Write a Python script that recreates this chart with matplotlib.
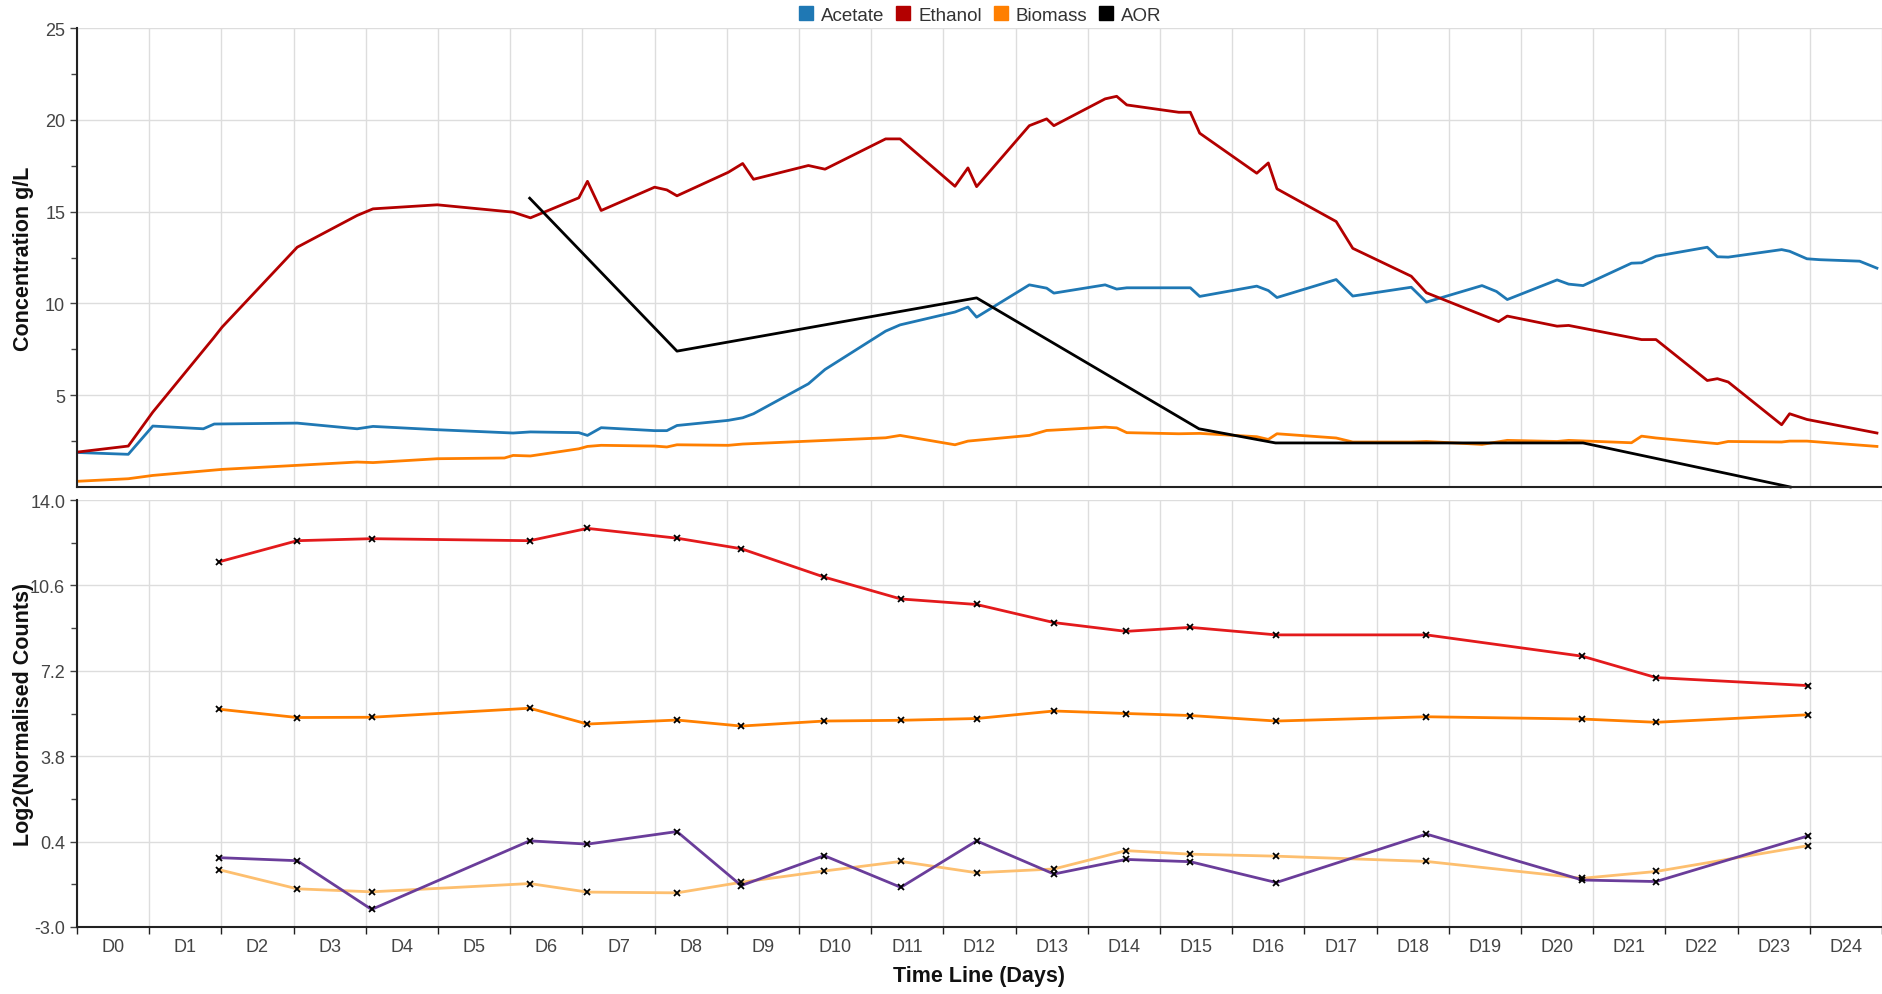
import numpy as np
import matplotlib
matplotlib.use("Agg")
import matplotlib.pyplot as plt
from matplotlib.lines import Line2D
from matplotlib.ticker import MultipleLocator, FixedLocator, NullFormatter

plt.rcParams['font.family'] = ['Liberation Sans', 'DejaVu Sans']

# ---- top panel: fermentation profile (time in days, g/L) ----
eth_t = [0.00, 0.71, 1.05, 1.75, 1.89, 2.01, 3.05, 3.88, 4.10, 4.99, 6.04, 6.28, 6.95, 7.07, 7.26,
         8.00, 8.17, 8.31, 9.02, 9.22, 9.37, 10.13, 10.36, 11.20, 11.40, 12.16, 12.34, 12.46,
         13.19, 13.43, 13.53, 14.24, 14.40, 14.54, 15.26, 15.42, 15.55, 16.34, 16.50, 16.62,
         17.44, 17.67, 18.48, 18.69, 19.69, 19.81, 20.50, 20.66, 21.67, 21.87, 22.58, 22.72,
         22.87, 23.61, 23.72, 23.96, 24.93]
ethanol = [1.90, 2.23, 4.08, 7.44, 8.11, 8.71, 13.06, 14.79, 15.15, 15.37, 14.97, 14.66, 15.75, 16.65, 15.06,
           16.33, 16.18, 15.86, 17.14, 17.62, 16.76, 17.51, 17.31, 18.96, 18.96, 16.38, 17.38, 16.36,
           19.68, 20.05, 19.68, 21.14, 21.28, 20.81, 20.41, 20.41, 19.27, 17.09, 17.65, 16.24,
           14.46, 13.00, 11.48, 10.58, 9.01, 9.31, 8.76, 8.80, 8.03, 8.03, 5.80, 5.90,
           5.72, 3.39, 3.99, 3.68, 2.94]

ace_t = [0.00, 0.71, 1.05, 1.75, 1.90, 3.05, 3.88, 4.10, 4.99, 6.04, 6.28, 6.95, 7.07, 7.26,
         8.00, 8.17, 8.31, 9.02, 9.22, 9.37, 10.13, 10.36, 11.20, 11.40, 12.16, 12.34, 12.46,
         13.19, 13.43, 13.53, 14.24, 14.40, 14.54, 15.26, 15.42, 15.55, 16.34, 16.50, 16.62,
         17.44, 17.67, 18.48, 18.69, 19.46, 19.66, 19.81, 20.50, 20.66, 20.86, 21.53, 21.67,
         21.87, 22.58, 22.72, 22.87, 23.61, 23.72, 23.96, 24.14, 24.69, 24.93]
acetate = [1.88, 1.78, 3.32, 3.17, 3.43, 3.48, 3.17, 3.30, 3.12, 2.94, 3.00, 2.96, 2.81, 3.23,
           3.07, 3.07, 3.35, 3.63, 3.77, 3.99, 5.62, 6.40, 8.49, 8.83, 9.53, 9.80, 9.25,
           11.01, 10.83, 10.56, 11.01, 10.78, 10.85, 10.85, 10.85, 10.38, 10.94, 10.70, 10.32,
           11.30, 10.40, 10.88, 10.07, 10.97, 10.65, 10.21, 11.28, 11.05, 10.97, 12.19, 12.21,
           12.57, 13.06, 12.54, 12.52, 12.93, 12.84, 12.43, 12.38, 12.30, 11.92]

bio_t = [0.00, 0.71, 1.05, 2.01, 3.05, 3.88, 4.10, 4.99, 5.92, 6.04, 6.28, 6.95, 7.07, 7.26,
         8.00, 8.17, 8.31, 9.02, 9.22, 11.20, 11.40, 12.16, 12.34, 13.19, 13.43, 13.53,
         14.24, 14.40, 14.54, 15.26, 15.55, 16.34, 16.50, 16.62, 17.44, 17.67, 18.48, 18.69,
         19.46, 19.81, 20.50, 20.66, 21.53, 21.67, 21.87, 22.72, 22.87, 23.61, 23.72, 23.96, 24.93]
biomass = [0.31, 0.45, 0.63, 0.96, 1.18, 1.36, 1.33, 1.54, 1.58, 1.72, 1.69, 2.08, 2.21, 2.27,
           2.23, 2.18, 2.30, 2.27, 2.34, 2.68, 2.81, 2.30, 2.50, 2.81, 3.08, 3.10,
           3.26, 3.22, 2.96, 2.90, 2.92, 2.74, 2.59, 2.90, 2.67, 2.45, 2.45, 2.48,
           2.32, 2.54, 2.48, 2.54, 2.41, 2.77, 2.67, 2.36, 2.48, 2.45, 2.50, 2.50, 2.21]

aor_t = [6.27, 8.31, 12.46, 15.54, 16.60, 20.86, 23.73]
aor = [15.73, 7.40, 10.30, 3.17, 2.40, 2.40, 0.0]

# ---- bottom panel: gene expression, log2 normalised counts ----
samp_t = [1.97, 3.05, 4.08, 6.27, 7.07, 8.31, 9.20, 10.35, 11.41, 12.46, 13.53, 14.53,
          15.42, 16.61, 18.69, 20.85, 21.87, 23.98]
gene_red = [11.54, 12.38, 12.46, 12.38, 12.87, 12.48, 12.06, 10.93, 10.06, 9.84, 9.12, 8.77,
            8.93, 8.63, 8.63, 7.78, 6.93, 6.61]
gene_orange = [5.67, 5.34, 5.35, 5.71, 5.08, 5.24, 5.00, 5.20, 5.23, 5.30, 5.60, 5.50,
               5.42, 5.20, 5.37, 5.28, 5.15, 5.45]
gene_lightorange = [-0.72, -1.48, -1.60, -1.27, -1.61, -1.64, -1.22, -0.77, -0.39, -0.84, -0.69, 0.04,
                    -0.10, -0.18, -0.39, -1.06, -0.79, 0.24]
gene_purple = [-0.24, -0.36, -2.30, 0.43, 0.30, 0.80, -1.35, -0.16, -1.42, 0.43, -0.89, -0.31,
               -0.40, -1.23, 0.70, -1.13, -1.19, 0.63]

day_labels = ["D%d" % i for i in range(25)]

W, H = 1883, 995
fig = plt.figure(figsize=(W / 100, H / 100), dpi=100)
L, R = 77 / W, 1882 / W
ax1 = fig.add_axes([L, 1 - 488 / H, R - L, (488 - 29) / H])
ax2 = fig.add_axes([L, 1 - 928 / H, R - L, (928 - 501) / H])

grid_c = '#dddddd'
tick_c = '#444444'
lw = 2.0

ax1.plot(ace_t, acetate, color='#1f78b4', lw=lw)
ax1.plot(eth_t, ethanol, color='#b30000', lw=lw)
ax1.plot(bio_t, biomass, color='#ff7f00', lw=lw)
ax1.plot(aor_t, aor, color='black', lw=lw, clip_on=False)

for ys, c in [(gene_red, '#e31a1c'), (gene_orange, '#ff7f00'),
              (gene_lightorange, '#fdbf6f'), (gene_purple, '#6a3d9a')]:
    ax2.plot(samp_t, ys, color=c, lw=lw, zorder=2)
    ax2.plot(samp_t, ys, ls='none', marker='x', ms=5, mew=1.3, color='black', zorder=3)

for ax in (ax1, ax2):
    ax.set_xlim(0, 25)
    for s in ('top', 'right'):
        ax.spines[s].set_visible(False)
    for s in ('left', 'bottom'):
        ax.spines[s].set_linewidth(1.5)
        ax.spines[s].set_color('#222222')
    ax.xaxis.set_major_locator(MultipleLocator(1))
    ax.grid(True, which='major', color=grid_c, lw=1.0, zorder=0)
    ax.set_axisbelow(True)
    ax.tick_params(axis='y', which='both', colors='#444444', labelsize=13, labelcolor=tick_c)
    ax.tick_params(axis='y', which='major', length=5, width=1)
    ax.tick_params(axis='y', which='minor', length=4, width=1)

# top
ax1.set_ylim(0, 25)
ax1.yaxis.set_major_locator(FixedLocator([5, 10, 15, 20, 25]))
ax1.yaxis.set_minor_locator(FixedLocator([2.5, 7.5, 12.5, 17.5, 22.5]))
ax1.tick_params(axis='x', which='both', length=0, labelbottom=False)
ax1.set_ylabel("Concentration g/L", fontsize=15.5, fontweight='bold', color='#111111')
ax1.yaxis.set_label_coords(-0.024, 0.5)

# bottom
ax2.set_ylim(-3, 14)
yt = [-3.0, 0.4, 3.8, 7.2, 10.6, 14.0]
ax2.yaxis.set_major_locator(FixedLocator(yt))
ax2.set_yticklabels(["%.1f" % v for v in yt])
ax2.yaxis.set_minor_locator(FixedLocator([-1.3, 2.1, 5.5, 8.9, 12.3]))
ax2.xaxis.set_minor_locator(FixedLocator(np.arange(25) + 0.5))
ax2.xaxis.set_major_formatter(NullFormatter())
ax2.set_xticklabels(day_labels, minor=True)
ax2.tick_params(axis='x', which='major', length=5, width=1, colors='#222222')
ax2.tick_params(axis='x', which='minor', length=0, labelsize=13, labelcolor=tick_c, pad=8)
ax2.set_ylabel("Log2(Normalised Counts)", fontsize=15.5, fontweight='bold', color='#111111')
ax2.yaxis.set_label_coords(-0.024, 0.5)
ax2.set_xlabel("Time Line (Days)", fontsize=15.5, fontweight='bold', color='#111111')
ax2.xaxis.set_label_coords(0.5, -0.089)

handles = [Line2D([], [], ls='none', marker='s', ms=10.5, color=c)
           for c in ['#1f78b4', '#b30000', '#ff7f00', 'black']]
fig.legend(handles, ['Acetate', 'Ethanol', 'Biomass', 'AOR'], loc='center',
           bbox_to_anchor=(980 / W, 1 - 16 / H), ncol=4, frameon=False, fontsize=13.5,
           handlelength=0.8, handletextpad=0.4, columnspacing=0.6, labelcolor='#333333')

fig.savefig("out.png", dpi=100)
